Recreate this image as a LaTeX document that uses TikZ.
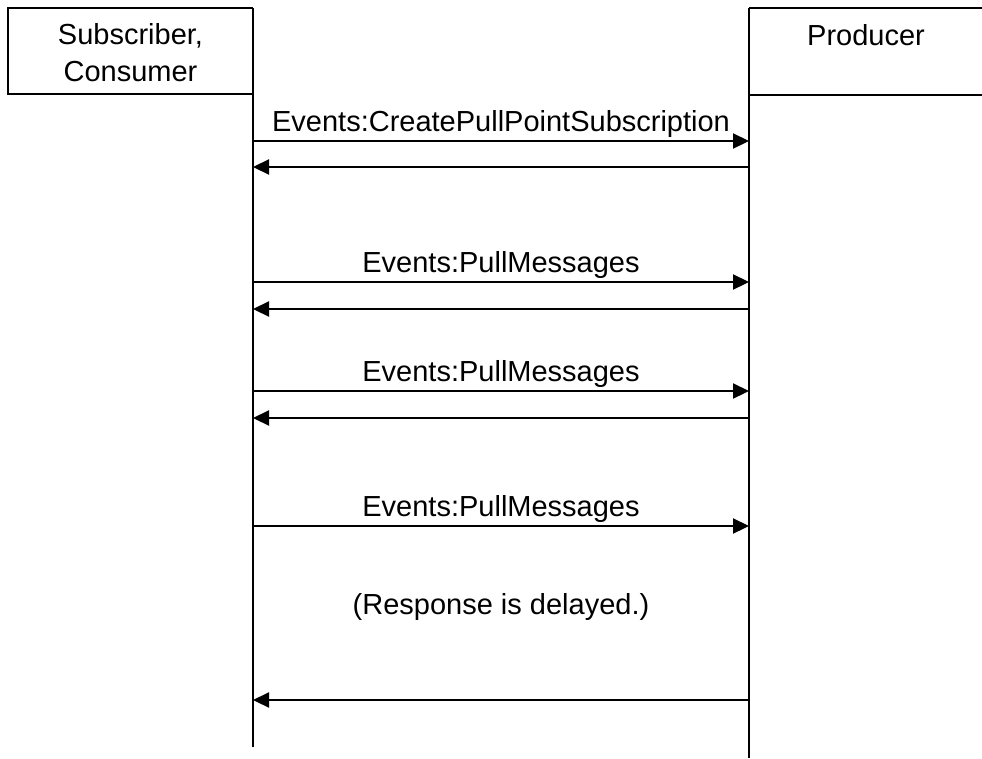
\documentclass[tikz,border=0pt]{standalone}
\usepackage{fontspec}
\setmainfont{Liberation Sans}
\usepackage{tikz}
\usetikzlibrary{arrows.meta}

\begin{document}
\begin{tikzpicture}[x=1pt,y=-1pt,line width=2.2pt,font=\fontsize{29}{37}\selectfont]
    \tikzstyle{msg}=[-{Triangle[length=16pt,width=15pt]}]
    \tikzstyle{lbl}=[above,inner sep=2pt]
    \useasboundingbox (0,0) rectangle (982,758);
    % participants
    \draw (253,8) -- (8,8) -- (8,94) -- (253,94);
    \draw (982,8) -- (749,8);
    \draw (749,95) -- (982,95);
    \node[align=center] (sub) at (130.5,53) {Subscriber,\\Consumer};
    \node (prod) at (866,35) {Producer};
    % lifelines
    \coordinate (L_top) at (253,8);
    \coordinate (L_bot) at (253,747);
    \coordinate (R_top) at (749,8);
    \coordinate (R_bot) at (749,758);
    \draw (L_top) -- (L_bot);
    \draw (R_top) -- (R_bot);
    % message points
    \coordinate (L_1) at (253,141); \coordinate (R_1) at (749,141);
    \coordinate (L_2) at (253,167); \coordinate (R_2) at (749,167);
    \coordinate (L_3) at (253,282); \coordinate (R_3) at (749,282);
    \coordinate (L_4) at (253,309); \coordinate (R_4) at (749,309);
    \coordinate (L_5) at (253,391); \coordinate (R_5) at (749,391);
    \coordinate (L_6) at (253,418); \coordinate (R_6) at (749,418);
    \coordinate (L_7) at (253,526); \coordinate (R_7) at (749,526);
    \coordinate (L_8) at (253,700); \coordinate (R_8) at (749,700);
    % messages
    \draw[msg] (L_1) -- (R_1) node[midway,lbl] (m_1) {Events:CreatePullPointSubscription};
    \draw[msg] (R_2) -- (L_2);
    \draw[msg] (L_3) -- (R_3) node[midway,lbl] (m_3) {Events:PullMessages};
    \draw[msg] (R_4) -- (L_4);
    \draw[msg] (L_5) -- (R_5) node[midway,lbl] (m_5) {Events:PullMessages};
    \draw[msg] (R_6) -- (L_6);
    \draw[msg] (L_7) -- (R_7) node[midway,lbl] (m_7) {Events:PullMessages};
    \node (delay) at (501,607) {(Response is delayed.)};
    \draw[msg] (R_8) -- (L_8);
  \end{tikzpicture}
\end{document}
